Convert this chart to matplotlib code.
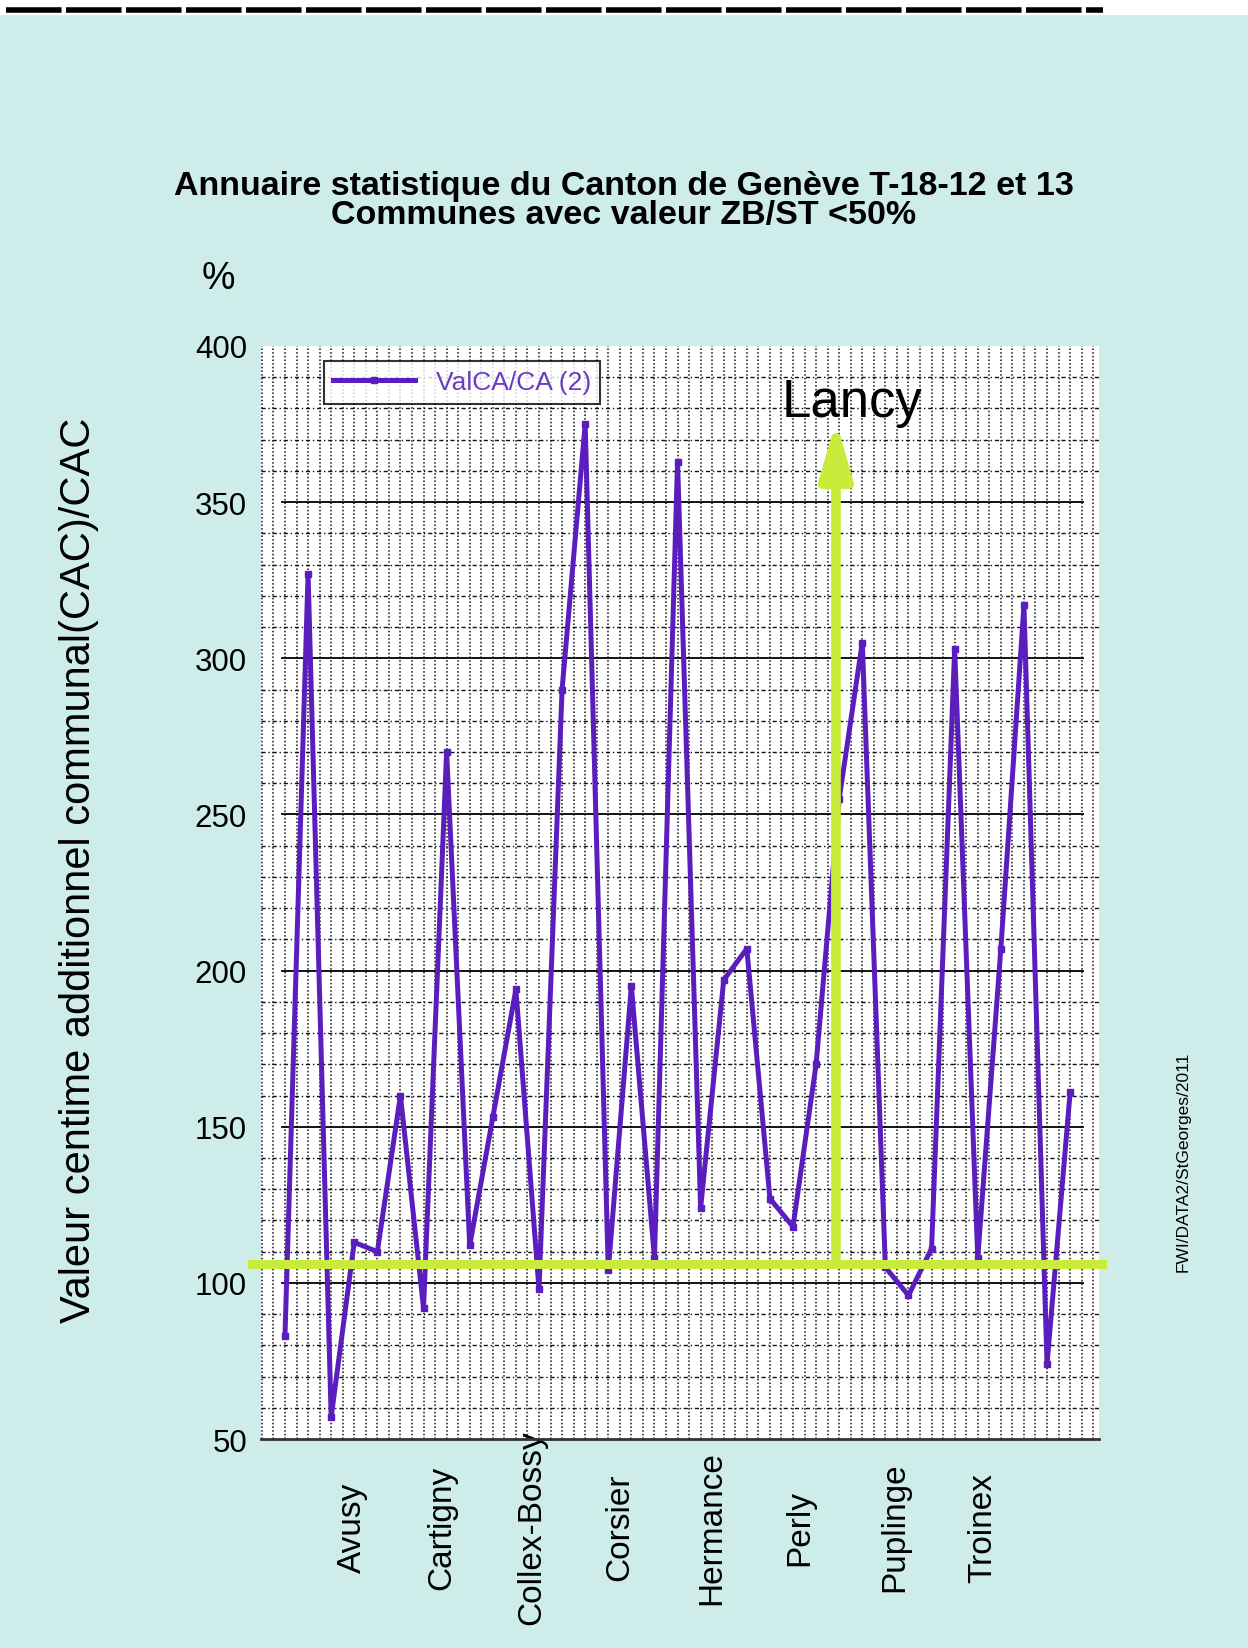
import numpy as np
import matplotlib
matplotlib.use("Agg")
import matplotlib.pyplot as plt
from matplotlib.lines import Line2D
from matplotlib.patches import Rectangle

plt.rcParams['font.family'] = ['Liberation Sans', 'DejaVu Sans']

# =========================
# DONNEES
# =========================
valca_ca = [83, 327, 57, 113, 110, 160, 92, 270, 112, 153,
            194, 98, 290, 375, 104, 195, 108, 363, 124, 197,
            207, 127, 118, 170, 255, 305, 105, 96, 111, 303,
            108, 207, 317, 74, 161]
label_pos = [2.9, 6.8, 10.7, 14.5, 18.5, 22.3, 26.4, 30.2]
commune_labels = ["Avusy", "Cartigny", "Collex-Bossy", "Corsier",
                  "Hermance", "Perly", "Puplinge", "Troinex"]
y_ticks = [50, 100, 150, 200, 250, 300, 350, 400]

REF_LEVEL = 106      # ligne verte horizontale
LANCY_X = 23.86      # position de la fleche Lancy
LANCY_TOP = 376

BG = "#cdecea"
PURPLE = "#5a1ebe"
GREEN = "#c9ec3c"

fig = plt.figure(figsize=(12.48, 16.49), dpi=100, facecolor=BG)

# bande blanche + barre pointillee en haut
fig.add_artist(Rectangle((0, 1 - 15 / 1649), 1, 15 / 1649,
                         transform=fig.transFigure, color="white", zorder=0))
fig.add_artist(Line2D([0.005, 0.884], [1 - 10.5 / 1649] * 2, transform=fig.transFigure,
                      color="black", lw=4, dashes=(10, 0.8)))

ax = fig.add_axes([0.2091, 0.1267, 0.6715, 0.6629])
ax.set_facecolor("white")

x = np.arange(len(valca_ca))

# grille
for gx in np.arange(-1, 35.6, 0.5):
    ax.axvline(gx, color="#111111", lw=1.1, linestyle=(0, (1, 1.4)), zorder=1)
for gy in range(60, 400, 10):
    if gy % 50:
        ax.axhline(gy, color="#111111", lw=1.0, linestyle=(0, (3, 2, 1, 2)), zorder=1)
for gy in range(100, 400, 50):
    ax.axhline(gy, xmin=0.025, xmax=0.981, color="black", lw=1.3, zorder=2)

ax.plot(x, valca_ca, color=PURPLE, lw=3.6, marker="s", markersize=4,
        label="ValCA/CA (2)", zorder=3)

# ligne de reference verte et fleche Lancy
ax.axhline(REF_LEVEL, xmin=-0.011, xmax=1.004, color=GREEN, lw=6.5,
           zorder=4, clip_on=False)
ax.annotate("", xy=(LANCY_X, LANCY_TOP), xytext=(LANCY_X, REF_LEVEL),
            arrowprops=dict(arrowstyle="-|>,head_length=1.1,head_width=0.32",
                            color=GREEN, lw=7, mutation_scale=30,
                            shrinkA=0, shrinkB=0), zorder=5)
ax.text(LANCY_X + 0.7, 382, "Lancy", fontsize=38, ha="center", va="center",
        color="black", zorder=6)

ax.set_xlim(-1.04, 35.25)
ax.set_ylim(50, 400)

ax.set_yticks(y_ticks)
ax.set_yticklabels([str(v) for v in y_ticks], fontsize=22.5)
ax.tick_params(axis="y", length=0, pad=10)

ax.set_xticks(label_pos)
ax.set_xticklabels(commune_labels, rotation=90, fontsize=24, ha="center", va="center")
ax.tick_params(axis="x", length=0, pad=63)

for s in ["top", "left", "right"]:
    ax.spines[s].set_visible(False)
ax.spines["bottom"].set_linestyle((0, (4, 1)))
ax.spines["bottom"].set_linewidth(2)
ax.spines["bottom"].set_color("#333333")

leg = ax.legend(loc="upper left", bbox_to_anchor=(0.075, 0.986), fontsize=19,
                handlelength=3.1, frameon=True, fancybox=False,
                borderpad=0.35, borderaxespad=0, labelcolor="#6a3cc4")
leg.get_frame().set_edgecolor("black")
leg.get_frame().set_linewidth(1.5)
leg.set_zorder(10)

fig.text(0.5, 1 - 186 / 1649, "Annuaire statistique du Canton de Genève T-18-12 et 13",
         fontsize=24.5, fontweight="bold", ha="center", va="center")
fig.text(0.5, 1 - 215.5 / 1649, "Communes avec valeur ZB/ST <50%",
         fontsize=24.5, fontweight="bold", ha="center", va="center")
fig.text(218 / 1248, 1 - 279 / 1649, "%", fontsize=27, ha="center", va="center")
fig.text(79 / 1248, 1 - 870 / 1649, "Valeur centime additionnel communal(CAC)/CAC",
         fontsize=30, rotation=90, ha="center", va="center")
fig.text(1183 / 1248, 1 - 1162 / 1649, "FWI/DATA2/StGeorges/2011",
         fontsize=12.5, rotation=90, ha="center", va="center")

fig.savefig("out.png", dpi=100, facecolor=BG)
